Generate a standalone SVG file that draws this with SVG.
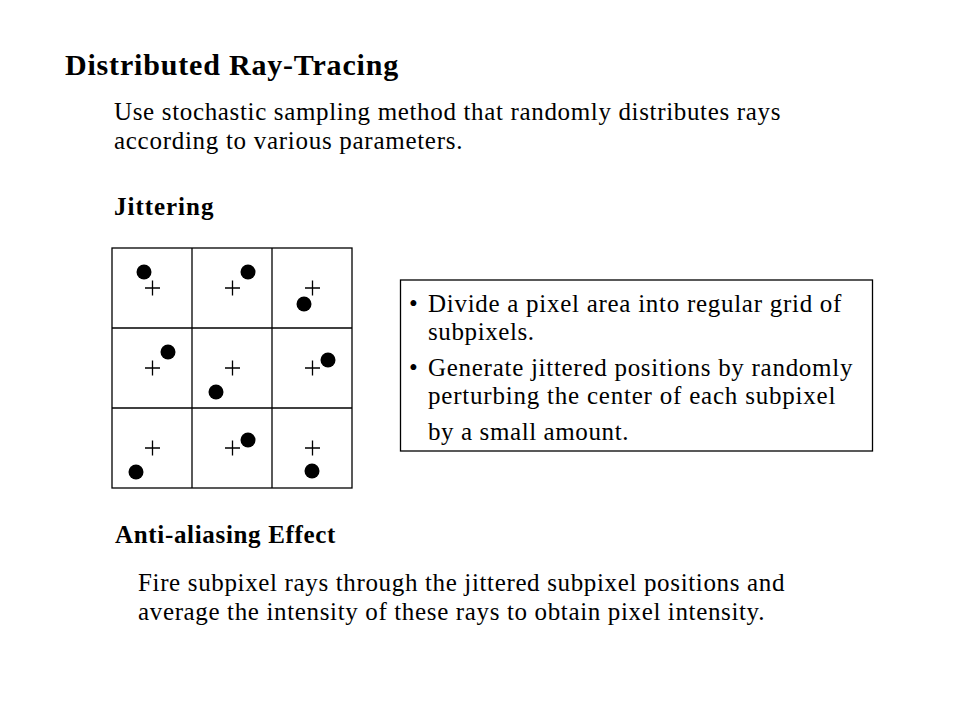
<svg xmlns="http://www.w3.org/2000/svg" width="960" height="720" viewBox="0 0 960 720">
<style>
  text { font-family: "Liberation Serif", "Times New Roman", serif; fill: #000; }
  .title { font-size: 30px; font-weight: bold; letter-spacing: 0.8px; }
  .head { font-size: 25px; font-weight: bold; letter-spacing: 0.6px; }
  .body { font-size: 25px; letter-spacing: 0.6px; }
  .grid { fill: none; stroke: #000; stroke-width: 1.3; }
  .plus { stroke: #000; stroke-width: 1.3; fill: none; }
  .dot { fill: #000; }
  .box { fill: #fff; stroke: #000; stroke-width: 1.3; }
</style>
<rect width="960" height="720" fill="#fff"/>
<g id="title">
  <text class="title" x="65" y="75" textLength="334" lengthAdjust="spacing">Distributed Ray-Tracing</text>
</g>
<g id="intro">
  <text class="body" x="114" y="120" textLength="667" lengthAdjust="spacing">Use stochastic sampling method that randomly distributes rays</text>
  <text class="body" x="114" y="149" textLength="349" lengthAdjust="spacing">according to various parameters.</text>
</g>
<g id="jittering-heading">
  <text class="head" x="114" y="215" textLength="100" lengthAdjust="spacing">Jittering</text>
</g>
<g id="pixel-grid">
  <rect class="grid" x="112" y="248" width="240" height="240"/>
  <line class="grid" x1="192" y1="248" x2="192" y2="488"/>
  <line class="grid" x1="272" y1="248" x2="272" y2="488"/>
  <line class="grid" x1="112" y1="328" x2="352" y2="328"/>
  <line class="grid" x1="112" y1="408" x2="352" y2="408"/>
  <path class="plus" d="M145 288h15M152.5 280.5v15 M225 288h15M232.5 280.5v15 M305 288h15M312.5 280.5v15 M145 368h15M152.5 360.5v15 M225 368h15M232.5 360.5v15 M305 368h15M312.5 360.5v15 M145 448h15M152.5 440.5v15 M225 448h15M232.5 440.5v15 M305 448h15M312.5 440.5v15"/>
  <circle class="dot" cx="144" cy="272" r="7.5"/>
  <circle class="dot" cx="248" cy="272" r="7.5"/>
  <circle class="dot" cx="304" cy="304" r="7.5"/>
  <circle class="dot" cx="168" cy="352" r="7.5"/>
  <circle class="dot" cx="216" cy="392" r="7.5"/>
  <circle class="dot" cx="328" cy="360" r="7.5"/>
  <circle class="dot" cx="136" cy="472" r="7.5"/>
  <circle class="dot" cx="248" cy="440" r="7.5"/>
  <circle class="dot" cx="312" cy="471" r="7.5"/>
</g>
<g id="description-box">
  <rect class="box" x="400.5" y="280" width="472" height="171"/>
  <text class="body" x="409" y="312">•</text>
  <text class="body" x="428" y="312" textLength="414" lengthAdjust="spacing">Divide a pixel area into regular grid of</text>
  <text class="body" x="428" y="340">subpixels.</text>
  <text class="body" x="409" y="376">•</text>
  <text class="body" x="428" y="376" textLength="425" lengthAdjust="spacing">Generate jittered positions by randomly</text>
  <text class="body" x="428" y="404" textLength="408" lengthAdjust="spacing">perturbing the center of each subpixel</text>
  <text class="body" x="428" y="440">by a small amount.</text>
</g>
<g id="antialiasing-heading">
  <text class="head" x="115" y="543" textLength="221" lengthAdjust="spacing">Anti-aliasing Effect</text>
</g>
<g id="antialiasing-text">
  <text class="body" x="138" y="591" textLength="647" lengthAdjust="spacing">Fire subpixel rays through the jittered subpixel positions and</text>
  <text class="body" x="138" y="620" textLength="627" lengthAdjust="spacing">average the intensity of these rays to obtain pixel intensity.</text>
</g>
</svg>
